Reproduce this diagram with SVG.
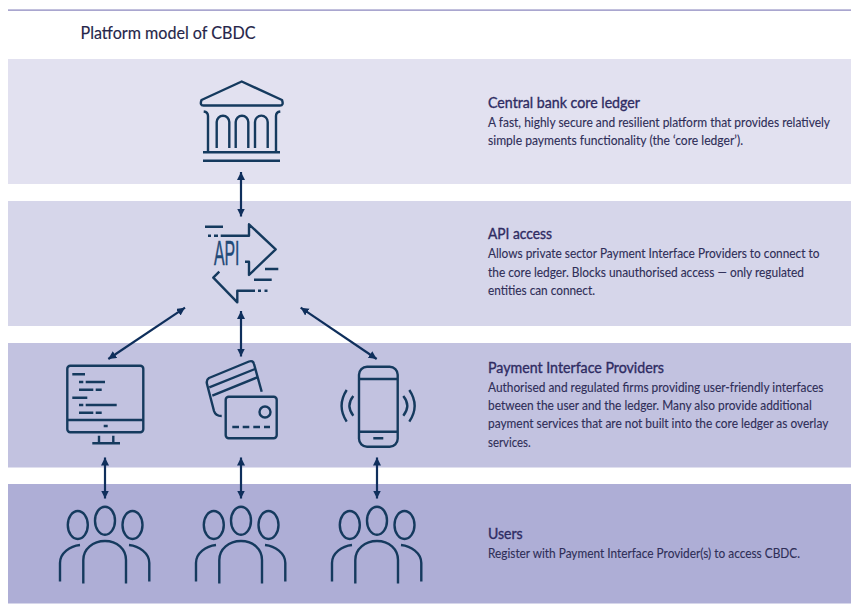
<svg xmlns="http://www.w3.org/2000/svg" width="851" height="604" viewBox="0 0 851 604">
<style>
text{font-family:"Lato","Noto Sans","Liberation Sans",sans-serif}
.t{font-size:17.5px;fill:#26264a;stroke:#26264a;stroke-width:.15px}
.h{font-size:14.500px;fill:#2f2c63;stroke:#2f2c63;stroke-width:.35px}
.b{font-size:12.500px;fill:#2f2e58;stroke:#2f2e58;stroke-width:.12px}
.i,.i *{fill:none;stroke:#153a5e;stroke-width:2.400;stroke-linecap:butt;stroke-linejoin:round}
.c line{stroke:#0f2f5c;stroke-width:2.200;marker-start:url(#a);marker-end:url(#a)}
</style>
<defs>
<marker id="a" markerUnits="userSpaceOnUse" markerWidth="10" markerHeight="10" refX="8" refY="4" orient="auto-start-reverse"><path d="M0 0L8 4L0 8Z" fill="#0f2f5c"/></marker>
<g id="people" class="i">
<ellipse cx="77.800" cy="525" rx="10" ry="14"/><ellipse cx="105" cy="520.700" rx="10" ry="14"/><ellipse cx="132.500" cy="525" rx="10" ry="14"/>
<path d="M83.300 583.500V560C83.300 549 93 541 105 541S126 549 126 560V583.500"/>
<path d="M60 581.500V563C60 553 70 546 80 545"/><path d="M149.300 581.500V563C149.300 553 139 546 129 545"/>
</g>
</defs>
<rect width="851" height="604" fill="#fff"/>
<rect id="rule" x="8" y="9.300" width="843" height="1.700" fill="#a9a6cf"/>
<g id="bands">
<rect x="8" y="59" width="843" height="125" fill="#e2e1f0"/>
<rect x="8" y="201" width="843" height="125" fill="#d6d6ea"/>
<rect x="8" y="343" width="843" height="124.500" fill="#c2c2e0"/>
<rect x="8" y="484" width="843" height="119.500" fill="#aeaed6"/>
</g>
<text id="title" class="t" x="80.500" y="38.500" textLength="175" lengthAdjust="spacingAndGlyphs">Platform model of CBDC</text>
<g id="connectors" class="c">
<line x1="241" y1="172" x2="241" y2="216.500"/>
<line x1="241" y1="311" x2="241" y2="356.500"/>
<line x1="185" y1="307.700" x2="108.300" y2="359"/>
<line x1="300.700" y1="307.700" x2="376.700" y2="359"/>
<line x1="105" y1="457.500" x2="105" y2="498.500"/>
<line x1="241" y1="457.500" x2="241" y2="498.500"/>
<line x1="377" y1="457.500" x2="377" y2="498.500"/>
</g>
<g id="bank" class="i">
<path d="M241.700 81.500L282 100Q284 105.500 280 105.500H203.500Q199.500 105.500 201.500 100Z"/>
<path d="M203.700 111.500Q208 112 208 116V152M280.300 111.500Q276 112 276 116V152"/>
<path d="M216.700 148V122A6.300 6.300 0 0 1 229.300 122V148M235.700 148V122A6.300 6.300 0 0 1 248.300 122V148M255 148V122A6.300 6.300 0 0 1 267.700 122V148"/>
<path d="M203 152.300H280M203 160.700H280"/>
</g>
<g id="api">
<g class="i">
<path d="M205 226.700H223M208 235.700H211M214 235.700H218M220.700 235.700H249V224.300L275.700 249.300L249 275V261.700H245M265 269H278.300M254 279.700H271.700M258 290.700H261M264.500 290.700H267.500M255 290.700H237.300V302.300L213.300 277.700L219.300 271.700"/>
</g>
<text x="214" y="265" font-size="34.500" textLength="25.500" lengthAdjust="spacingAndGlyphs" style="font-family:'Liberation Sans',sans-serif;fill:#1f4a78;stroke:#1f4a78;stroke-width:.5px">API</text>
</g>
<g id="computer" class="i">
<rect x="67.300" y="365.700" width="76" height="66.600" rx="3"/>
<path d="M67.300 420H143.300M103.700 426H107.700M99 435.700V443M113.300 435.700V443M92.300 443.300H120"/>
<path d="M72.300 374.300H85M79 382H83.300M85.700 382H105M79 389.700H93.300M95.700 389.700H101.700M72.300 397.700H87.300M79 405H83.300M85.700 405H116.700M79 412.700H93.300M95.700 412.700H101.700"/>
</g>
<g id="cards" class="i">
<path d="M261.700 391.700L254 364Q253 360 249 361.500L209 378Q206 380 207 384L214 411Q215.500 416 221.700 416"/>
<path d="M209.300 387.300L255 369M212.300 395.700L257.300 377.300"/>
<rect x="225.700" y="396.700" width="51" height="41.600" rx="3"/>
<circle cx="265" cy="412" r="5.500"/>
<path d="M232.300 427H239M242.700 427H249.300M253.300 427H260M264 427H270"/>
</g>
<g id="phone" class="i">
<rect x="359" y="366.700" width="38.700" height="80" rx="8"/>
<path d="M359 379H397.700M359 431.700H397.700M373.300 438.300H383.300"/>
<path d="M346.700 390Q336.500 405.700 346.700 421.700M353.300 396Q345.500 405.700 353.300 415.700M409.300 390Q420 405.700 409.300 421.700M403.300 396Q411.300 405.700 403.300 415.700"/>
</g>
<use id="users1" href="#people"/>
<use id="users2" href="#people" x="136"/>
<use id="users3" href="#people" x="272"/>
<g id="label-ledger">
<text class="h" x="488" y="108" textLength="152" lengthAdjust="spacingAndGlyphs">Central bank core ledger</text>
<text class="b" x="488" y="127.300" textLength="342" lengthAdjust="spacingAndGlyphs">A fast, highly secure and resilient platform that provides relatively</text>
<text class="b" x="488" y="145" textLength="255" lengthAdjust="spacingAndGlyphs">simple payments functionality (the ‘core ledger’).</text>
</g>
<g id="label-api">
<text class="h" x="488" y="238.500" textLength="64" lengthAdjust="spacingAndGlyphs">API access</text>
<text class="b" x="488" y="258.300" textLength="331.500" lengthAdjust="spacingAndGlyphs">Allows private sector Payment Interface Providers to connect to</text>
<text class="b" x="488" y="276.700" textLength="316" lengthAdjust="spacingAndGlyphs">the core ledger. Blocks unauthorised access — only regulated</text>
<text class="b" x="488" y="295" textLength="107" lengthAdjust="spacingAndGlyphs">entities can connect.</text>
</g>
<g id="label-pip">
<text class="h" x="488" y="373.300" textLength="176" lengthAdjust="spacingAndGlyphs">Payment Interface Providers</text>
<text class="b" x="488" y="392.300" textLength="335.500" lengthAdjust="spacingAndGlyphs">Authorised and regulated firms providing user-friendly interfaces</text>
<text class="b" x="488" y="410" textLength="323.700" lengthAdjust="spacingAndGlyphs">between the user and the ledger. Many also provide additional</text>
<text class="b" x="488" y="428.300" textLength="340.300" lengthAdjust="spacingAndGlyphs">payment services that are not built into the core ledger as overlay</text>
<text class="b" x="488" y="446.700" textLength="42.700" lengthAdjust="spacingAndGlyphs">services.</text>
</g>
<g id="label-users">
<text class="h" x="488" y="539" textLength="34.700" lengthAdjust="spacingAndGlyphs">Users</text>
<text class="b" x="488" y="557.700" textLength="312" lengthAdjust="spacingAndGlyphs">Register with Payment Interface Provider(s) to access CBDC.</text>
</g>
</svg>
